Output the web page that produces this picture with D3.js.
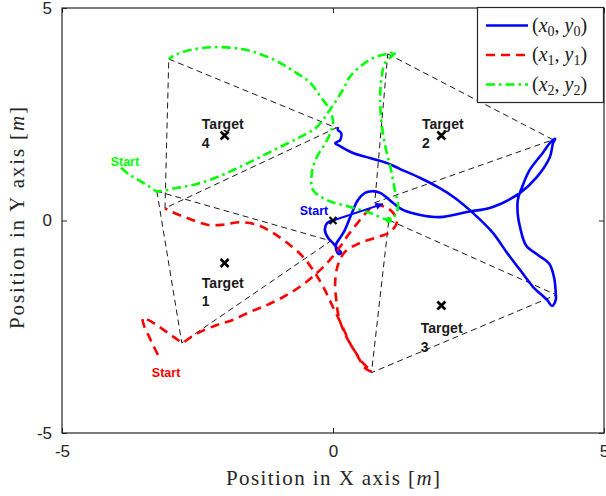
<!DOCTYPE html>
<html>
<head>
<meta charset="UTF-8">
<script src="https://d3js.org/d3.v7.min.js"></script>
<style>
  body { margin: 0; background: #fff; }
  svg { display: block; }
  .tick text { font-family: "Liberation Sans", Arial, sans-serif; font-size: 17px; fill: #262626; }
  .tick line { stroke: #262626; }
</style>
</head>
<body>
<svg id="chart" width="606" height="496"></svg>
<script>
// agent paths in metres
const agent0 = [[0,0],[-0.11,-0.06],[-0.15,-0.22],[-0.09,-0.41],[0,-0.53],[0.09,-0.67],[0.15,-0.76],[0.11,-0.79],
  [0.06,-0.69],[0.06,-0.55],[0.13,-0.41],[0.22,-0.22],[0.35,0.18],[0.46,0.48],[0.59,0.65],[0.72,0.69],[0.87,0.65],
  [1.11,0.41],[1.29,0.25],[1.61,0.13],[1.97,0.08],[2.47,0.2],[2.95,0.32],[3.45,0.65],[3.76,1.02],[4.0,1.49],
  [4.06,1.82],[4.1,1.92],[4.02,1.85],[3.87,1.59],[3.63,1.19],[3.49,0.79],[3.41,0.48],[3.41,0.13],[3.45,-0.15],
  [3.56,-0.58],[3.78,-0.81],[3.99,-1.02],[4.08,-1.35],[4.11,-1.71],[4.11,-1.87],[4.04,-2.01],[3.95,-1.87],
  [3.69,-1.56],[3.45,-1.16],[3.21,-0.76],[2.95,-0.29],[2.58,0.18],[2.25,0.53],[1.97,0.76],[1.61,1.0],[1.24,1.21],
  [1.0,1.35],[0.68,1.47],[0.37,1.59],[0.13,1.75],[0.04,1.82],[0.13,1.89],[0.15,2.06],[0.09,2.13],[0.09,2.2]];
const agent1 = [[-3.23,-3.16],[-3.32,-2.93],[-3.41,-2.69],[-3.49,-2.46],[-3.51,-2.29],[-3.41,-2.34],[-3.23,-2.48],
  [-3.04,-2.65],[-2.86,-2.81],[-2.79,-2.88],[-2.64,-2.76],[-2.45,-2.62],[-2.14,-2.46],[-1.85,-2.34],[-1.53,-2.15],
  [-1.22,-1.99],[-0.92,-1.8],[-0.61,-1.56],[-0.3,-1.24],[-0.06,-0.93],[0.13,-0.62],[0.28,-0.34],[0.44,-0.08],
  [0.61,0.18],[0.77,0.36],[0.96,0.32],[1.11,0.18],[1.18,-0.04],[1.05,-0.27],[0.77,-0.41],[0.46,-0.55],[0.22,-0.74],
  [0.09,-1.05],[0.04,-1.45],[0.06,-1.87],[0.11,-2.29],[0.24,-2.72],[0.41,-3.09],[0.55,-3.35],[0.72,-3.56],
  [0.59,-3.47],[0.44,-3.16],[0.31,-2.88],[0.18,-2.51],[0,-2.04],[-0.18,-1.56],[-0.37,-1.16],[-0.55,-0.86],
  [-0.79,-0.58],[-1.11,-0.29],[-1.4,-0.1],[-1.72,-0.04],[-2.03,-0.1],[-2.32,-0.1],[-2.69,0.06],[-2.97,0.2],[-3.1,0.29]];
const agent2 = [[-3.91,1.24],[-3.75,1.07],[-3.56,0.93],[-3.38,0.79],[-3.25,0.69],[-2.92,0.76],[-2.51,0.86],
  [-2.08,1.05],[-1.72,1.26],[-1.35,1.49],[-0.98,1.73],[-0.61,1.96],[-0.3,2.2],[-0.06,2.6],[0.18,3.07],[0.31,3.38],
  [0.59,3.71],[0.83,3.87],[1.01,3.92],[1.16,3.96],[1.09,3.87],[0.96,3.71],[0.89,3.31],[0.87,2.84],[0.9,2.25],
  [0.98,1.66],[1.07,1.19],[1.14,0.72],[1.2,0.32],[1.14,0.11],[1.05,0.01],[0.68,0.18],[0.31,0.32],[-0.11,0.48],
  [-0.37,0.72],[-0.39,1.12],[-0.3,1.49],[-0.11,1.89],[0,2.29],[-0.06,2.6],[-0.24,2.93],[-0.42,3.24],[-0.7,3.49],
  [-0.98,3.71],[-1.35,3.92],[-1.72,4.04],[-2.18,4.08],[-2.64,4.01],[-2.92,3.89],[-3.03,3.8]];

// formation triangles around each target
const formations = [
  [[-3.25,0.69],[-2.79,-2.88],[-0.04,-0.48]],
  [[1.01,3.92],[4.06,1.9],[0.77,0.42]],
  [[1.03,0.01],[4.12,-1.75],[0.71,-3.58]],
  [[-3.03,3.8],[0.06,2.18],[-3.1,0.29]]
];

const targets = [[-2,-1],[2,2],[2,-2],[-2,2]];
const targetNames = ["1","2","3","4"];
const targetLabelAt = [[-2.42,-1.58],[1.64,2.15],[1.62,-2.65],[-2.42,2.15]];

const startLabelAt = [[-0.35,0.13],[-3.08,-3.68],[-3.84,1.28]];
const blueHeading = [[0,0],[0.92,0.39]];

const colors = ["#0000ff","#ff0000","#00ff00"];
const dashes = [null,"9,6","9,4,2.5,4"];

const svg = d3.select("#chart");
const x = d3.scaleLinear().domain([-5,5]).range([62,604]);
const y = d3.scaleLinear().domain([-5,5]).range([433,8]);

const line = d3.line().x(d => x(d[0])).y(d => y(d[1]));
const smooth = d3.line().x(d => x(d[0])).y(d => y(d[1])).curve(d3.curveCatmullRom.alpha(0.5));

svg.append("rect").attr("x",0).attr("y",0).attr("width",606).attr("height",496).attr("fill","#fff");

// triangles
svg.selectAll("path.tri").data(formations).join("path")
  .attr("class","tri")
  .attr("d", d => line(d.concat([d[0]])))
  .attr("fill","none").attr("stroke","#000").attr("stroke-width",0.9)
  .attr("stroke-dasharray","6,4");

// trajectories
const paths = [agent0, agent1, agent2];
svg.selectAll("path.traj").data(paths).join("path")
  .attr("class","traj")
  .attr("d", d => smooth(d))
  .attr("fill","none")
  .attr("stroke",(d,i) => colors[i])
  .attr("stroke-width",2.6)
  .attr("stroke-dasharray",(d,i) => dashes[i]);

// heading arrow at blue start
svg.append("path").attr("d", line(blueHeading))
  .attr("stroke",colors[0]).attr("stroke-width",2).attr("fill","none");
const hx = x(blueHeading[1][0]), hy = y(blueHeading[1][1]);
const ang = Math.atan2(hy - y(0), hx - x(0));
svg.append("path")
  .attr("d","M0,0L-7,-3.5L-7,3.5Z")
  .attr("transform",`translate(${hx},${hy}) rotate(${ang*180/Math.PI})`)
  .attr("fill",colors[0]);

// green marker on formation vertex
svg.append("circle").attr("cx",x(formations[2][0][0])).attr("cy",y(formations[2][0][1]))
  .attr("r",3).attr("fill",colors[2]);

// target markers
const cross = s => `M${-s},${-s}L${s},${s}M${-s},${s}L${s},${-s}`;
svg.selectAll("path.tgt").data(targets).join("path")
  .attr("class","tgt")
  .attr("d", cross(4))
  .attr("transform", d => `translate(${x(d[0])},${y(d[1])})`)
  .attr("stroke","#000").attr("stroke-width",2.6);

// start marker of agent 0
svg.append("path").attr("d",cross(3.5))
  .attr("transform",`translate(${x(agent0[0][0])},${y(agent0[0][1])})`)
  .attr("stroke","#000").attr("stroke-width",2.2);

// target labels
targetLabelAt.forEach((p,i) => {
  const t = svg.append("text")
    .attr("x",x(p[0])).attr("y",y(p[1]))
    .style("font-family","'Liberation Sans', Arial, sans-serif")
    .style("font-weight","bold").style("font-size","14px").attr("fill","#1a1a1a");
  t.append("tspan").text("Target");
  t.append("tspan").attr("x",x(p[0])).attr("dy",18.5).text(targetNames[i]);
});

// start labels
startLabelAt.forEach((p,i) => {
  svg.append("text").attr("x",x(p[0])).attr("y",y(p[1]))
    .attr("text-anchor","middle")
    .style("font-family","'Liberation Sans', Arial, sans-serif")
    .style("font-weight","bold").style("font-size","12.5px")
    .attr("fill",colors[i]).text("Start");
});

// axes
const xTicks = [-5,0,5], yTicks = [-5,0,5];
svg.append("g").attr("transform","translate(0,433)")
  .call(d3.axisBottom(x).tickValues(xTicks).tickSize(-5).tickPadding(12).tickFormat(d3.format("d")))
  .call(g => g.select(".domain").remove());
svg.append("g").attr("transform","translate(0,8)")
  .call(d3.axisTop(x).tickValues(xTicks).tickSize(-5).tickFormat(""))
  .call(g => g.select(".domain").remove());
svg.append("g").attr("transform","translate(62,0)")
  .call(d3.axisLeft(y).tickValues(yTicks).tickSize(-5).tickPadding(10).tickFormat(d3.format("d")))
  .call(g => g.select(".domain").remove());
svg.append("g").attr("transform","translate(604,0)")
  .call(d3.axisRight(y).tickValues(yTicks).tickSize(-5).tickFormat(""))
  .call(g => g.select(".domain").remove());
svg.selectAll(".tick text").text(function() { return this.textContent.replace("−","-"); });

svg.append("rect").attr("x",62).attr("y",8).attr("width",542).attr("height",425)
  .attr("fill","none").attr("stroke","#262626").attr("stroke-width",1.2);

// axis titles
const serif = "'Liberation Serif', 'Times New Roman', serif";
const xt = svg.append("text").attr("x",333).attr("y",485).attr("text-anchor","middle")
  .attr("textLength",214).attr("lengthAdjust","spacing")
  .style("font-family",serif).style("font-size","21px").attr("fill","#262626");
xt.append("tspan").text("Position in X axis [");
xt.append("tspan").style("font-style","italic").text("m");
xt.append("tspan").text("]");
const yt = svg.append("text").attr("transform","translate(24,218) rotate(-90)").attr("text-anchor","middle")
  .attr("textLength",222).attr("lengthAdjust","spacing")
  .style("font-family",serif).style("font-size","21px").attr("fill","#262626");
yt.append("tspan").text("Position in Y axis [");
yt.append("tspan").style("font-style","italic").text("m");
yt.append("tspan").text("]");

// legend
const lg = svg.append("g");
lg.append("rect").attr("x",477.5).attr("y",7.5).attr("width",126).attr("height",95)
  .attr("fill","#fff").attr("stroke","#262626").attr("stroke-width",1.2);
colors.forEach((c,i) => {
  const ly = 25.5 + i*29.5;
  lg.append("line").attr("x1",486).attr("x2",528).attr("y1",ly).attr("y2",ly)
    .attr("stroke",c).attr("stroke-width",2.5).attr("stroke-dasharray",dashes[i]);
  const t = lg.append("text").attr("x",532).attr("y",ly+6)
    .style("font-family",serif).style("font-size","20px").attr("fill","#1a1a1a");
  t.append("tspan").text("(");
  t.append("tspan").style("font-style","italic").text("x");
  t.append("tspan").attr("dy",4).style("font-size","14px").text(i);
  t.append("tspan").attr("dy",-4).text(", ");
  t.append("tspan").style("font-style","italic").text("y");
  t.append("tspan").attr("dy",4).style("font-size","14px").text(i);
  t.append("tspan").attr("dy",-4).text(")");
});
</script>
</body>
</html>
